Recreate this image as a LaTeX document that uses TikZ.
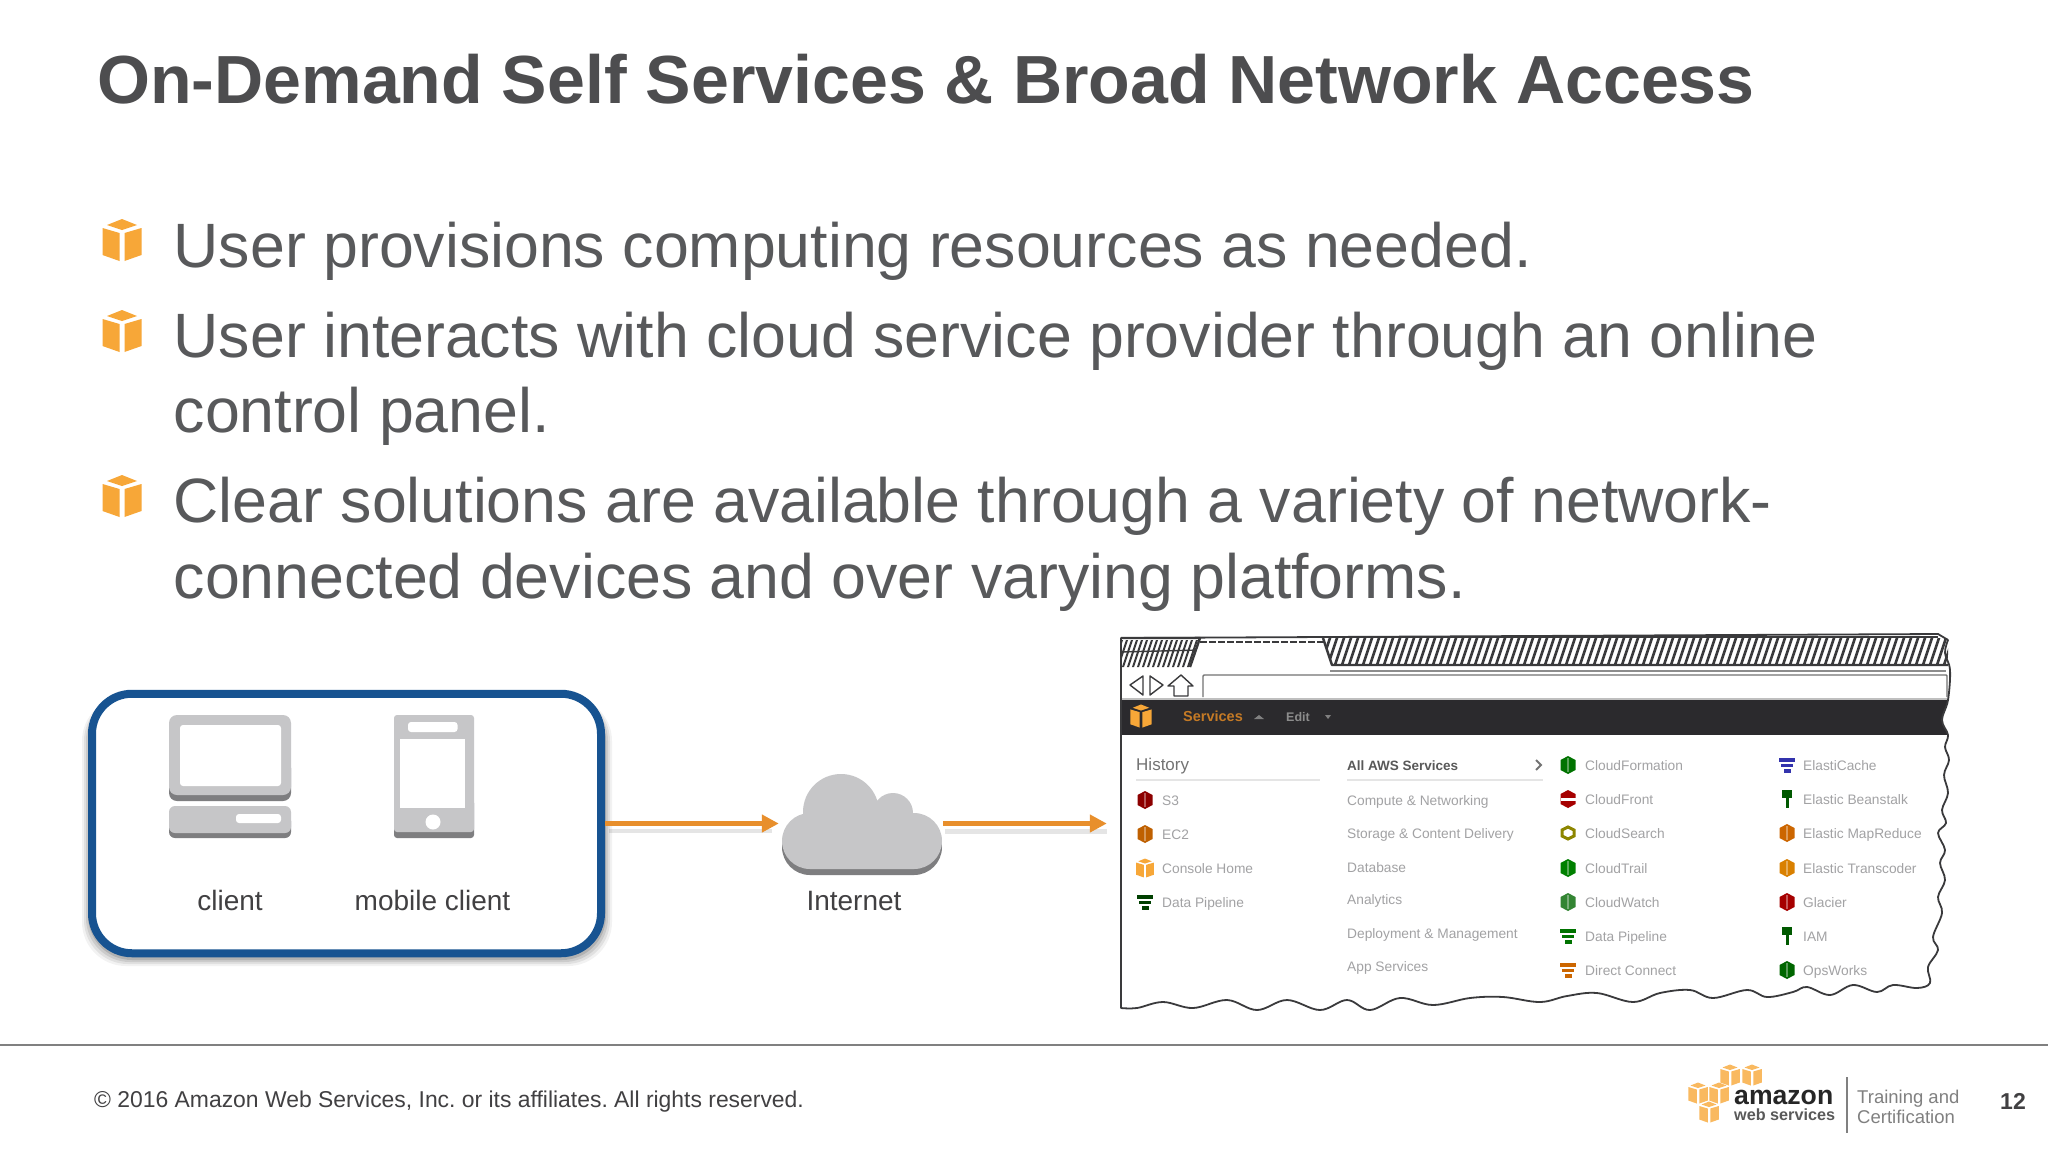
\documentclass[tikz,border=0pt]{standalone}
\usepackage{fontspec}
\setmainfont{Liberation Sans}
\usetikzlibrary{arrows.meta}
\definecolor{titlecol}{HTML}{4D4D4F}
\definecolor{bodycol}{HTML}{58595B}
\definecolor{labelcol}{HTML}{414042}
\definecolor{cubecol}{HTML}{F7A738}
\definecolor{boxblue}{HTML}{175391}
\definecolor{iconlight}{HTML}{C6C6C8}
\definecolor{icondark}{HTML}{7E7E80}
\definecolor{arrowcol}{HTML}{E88F2C}
\definecolor{inkcol}{HTML}{3A3A3C}
\definecolor{smalltext}{HTML}{A2A2A4}
\definecolor{barcol}{HTML}{2B2A2D}
\newcommand{\fs}[1]{\fontsize{#1}{#1}\selectfont}
\tikzset{
  x=1pt,y=-1pt,
  titletext/.style={anchor=base west,inner sep=0,text=titlecol,font=\fs{68.1}\bfseries},
  bullettext/.style={anchor=base west,inner sep=0,text=bodycol,font=\fs{62.65}},
  devlabel/.style={anchor=base,inner sep=0,text=labelcol,font=\fs{28}},
  foottext/.style={anchor=base west,inner sep=0,text=labelcol,font=\frenchspacing\fs{22.9}},
  smalltxt/.style={anchor=base west,inner sep=0,text=smalltext,font=\fs{13.75}},
  flowarrow/.style={line width=5.5pt,draw=arrowcol,-{Triangle[length=17pt,width=17pt,fill=arrowcol]}},
  ink/.style={draw=inkcol,line width=1.8pt,line join=round},
  awscube/.pic={
    \path[pic actions,draw=none] (-15,-15) -- (0,-21) -- (15,-15) -- (0,-10) -- cycle;
    \path[pic actions,draw=none] (-19.5,-12) -- (-2.5,-7) -- (-2.5,21) -- (-19.5,15) -- cycle;
    \path[pic actions,draw=none] (2.5,-7) -- (19.5,-12) -- (19.5,15) -- (2.5,21) -- cycle;
  },
  hexicon/.pic={
    \path[pic actions,draw=none] (0,-9) -- (7.5,-5) -- (7.5,5) -- (0,9) -- (-7.5,5) -- (-7.5,-5) -- cycle;
    \fill[white,opacity=.35] (-1,-7) rectangle (1,7);
  },
  bandicon/.pic={
    \path[pic actions,draw=none] (0,-9) -- (7.5,-5) -- (7.5,5) -- (0,9) -- (-7.5,5) -- (-7.5,-5) -- cycle;
    \fill[white] (-7.5,-1.5) rectangle (7.5,1.5);
  },
  ringicon/.pic={
    \path[pic actions,fill=none,line width=3pt] (0,-6) -- (6,-3) -- (6,3) -- (0,6) -- (-6,3) -- (-6,-3) -- cycle;
  },
  stackicon/.pic={
    \path[pic actions,draw=none] (-8,-7) rectangle (8,-3.5);
    \path[pic actions,draw=none] (-6,-1.5) rectangle (6,2);
    \path[pic actions,draw=none] (-3.5,4) rectangle (3.5,8);
  },
  keyicon/.pic={
    \path[pic actions,draw=none] (-5,-9) rectangle (5,-1);
    \path[pic actions,draw=none] (-1.5,-1) rectangle (1.5,9);
  }
}
\def\browseroutline{(1121,638) -- (1938,634) -- plot[smooth,tension=.6] coordinates {(1948,640) (1945,653) (1950,670) (1948,700) (1942,720) (1948,735) (1945,747) (1949,760) (1944,775) (1948,793) (1942,810) (1946,823) (1938,833) (1945,850) (1940,863) (1945,880) (1938,897) (1942,913) (1933,937) (1938,950) (1928,967) (1930,983) (1917,988) (1893,985) (1877,992) (1853,985) (1830,995) (1807,987) (1793,992) (1767,997) (1747,990) (1713,998) (1690,990) (1660,993) (1633,1002) (1597,993) (1567,996) (1540,1002) (1503,997) (1470,998) (1433,1005) (1400,998) (1370,1010) (1347,1000) (1320,1010) (1287,1000) (1257,1010) (1227,1000) (1193,1008) (1163,1002) (1137,1008) (1121,1008)} -- cycle}
\begin{document}
\begin{tikzpicture}
\useasboundingbox (0,0) rectangle (2048,1152);
\fill[white] (0,0) rectangle (2048,1152);

% title and bullets
\node[titletext] (title) at (97,103) {On-Demand Self Services \& Broad Network Access};
\pic[fill=cubecol] at (122,240) {awscube};
\pic[fill=cubecol] at (122,331) {awscube};
\pic[fill=cubecol] at (122,496) {awscube};
\node[bullettext] (b1) at (173.5,267) {User provisions computing resources as needed.};
\node[bullettext] (b2a) at (173.5,357) {User interacts with cloud service provider through an online};
\node[bullettext] (b2b) at (173.5,432.5) {control panel.};
\node[bullettext] (b3a) at (173.5,522.5) {Clear solutions are available through a variety of network-};
\node[bullettext] (b3b) at (173.5,598) {connected devices and over varying platforms.};

% client box shadow
\foreach \g/\o in {6/.05,4/.07,2/.09,0/.12}
  \fill[black,opacity=\o,rounded corners=44pt] (88-\g,697) rectangle (605+\g+1,960+\g);
\node[draw=boxblue,fill=white,line width=8pt,rounded corners=40pt,inner sep=0,
      minimum width=509pt,minimum height=259.5pt] (clientbox) at (346.5,823.5) {};

% computer icon
\fill[icondark,rounded corners=8pt] (169,760) rectangle (291,801);
\fill[iconlight,rounded corners=8pt] (169,715) rectangle (291,795);
\fill[white,rounded corners=3pt] (180,725) rectangle (281,786);
\fill[icondark,rounded corners=6pt] (169,815) rectangle (291,838);
\fill[iconlight,rounded corners=6pt] (169,806) rectangle (291,833);
\fill[white,rounded corners=3pt] (236,814) rectangle (281,823);
% phone icon
\fill[icondark,rounded corners=3pt] (394,800) rectangle (474,838);
\fill[iconlight,rounded corners=3pt] (394,715) rectangle (474,832);
\fill[white,rounded corners=3pt] (408,722) rectangle (457.5,732);
\fill[white] (400,739) rectangle (465,808);
\fill[white] (433,822) circle[radius=7.5pt];
\node[devlabel] (clientlabel) at (230,910) {client};
\node[devlabel] (mobilelabel) at (432.5,910) {mobile client};

% cloud
\node[inner sep=0,minimum width=160pt,minimum height=101pt] (cloud) at (862,823.5) {};
\begin{scope}[shift={(0,6)}]
  \fill[icondark] (810,841) circle[radius=28pt] (914,841) circle[radius=28pt] (810,835) rectangle (914,869);
\end{scope}
\fill[iconlight] (841,812) circle[radius=38pt] (893,813) circle[radius=20pt]
  (810,841) circle[radius=28pt] (914,841) circle[radius=28pt] (810,820) rectangle (914,869);
\node[devlabel] (inetlabel) at (854,910) {Internet};

% arrows
\fill[black,opacity=.1] (609,829) rectangle (772,833);
\fill[black,opacity=.1] (945,829) rectangle (1107,834);
\draw[flowarrow,shorten >=3pt] (clientbox.east) -- (cloud.west);
\node[inner sep=0,minimum width=827pt,minimum height=372pt] (browser) at (1534.5,823.5) {};
\draw[flowarrow,shorten <=1pt,shorten >=14pt] (cloud.east) -- (browser.west);

% browser window
\fill[white] \browseroutline;
\begin{scope}
  \clip \browseroutline;
  \fill[barcol] (1115,700) rectangle (1955,735);
  \fill[black!25] (1115,698) rectangle (1955,700);
\end{scope}
\begin{scope}
  \clip (1323,638) -- (1948,638) -- (1948,665) -- (1332,665) -- cycle;
  \foreach \x in {1330,1337,...,1965}
    \draw[inkcol,line width=2.6pt] (\x-10,668) -- (\x+1,635);
\end{scope}
\begin{scope}
  \clip (1122,640) -- (1200,640) -- (1190,667) -- (1122,667) -- cycle;
  \foreach \x in {1122,1127,...,1210}
    \draw[inkcol,line width=2pt] (\x-10,670) -- (\x+1,637);
  \draw[inkcol,line width=1.4pt] (1118,652) -- (1200,650);
\end{scope}
\draw[ink,line width=2.4pt] (1121,638) -- (1200,638) -- (1190,667);
\draw[inkcol,line width=2.4pt,dash pattern=on 7pt off 2pt] (1200,642) -- (1324,642);
\draw[ink,line width=2.4pt] (1323,637) -- (1938,637);
\draw[ink,line width=2.4pt] (1323,638) -- (1332,665) -- (1948,665);
\draw[black!45,line width=1.4pt] (1330,671) -- (1946,671);
% nav icons and address bar
\draw[ink,line width=1.4pt] (1143,676) -- (1130,685) -- (1143,695) -- cycle;
\draw[ink,line width=1.4pt] (1150,676) -- (1163,685) -- (1150,695) -- cycle;
\draw[ink,line width=1.4pt] (1168,686) -- (1181,675) -- (1193,686) -- (1188,686) -- (1188,696) -- (1174,696) -- (1174,686) -- cycle;
\draw[black!55,line width=1.4pt,rounded corners=1pt] (1203,697) -- (1203,675) -- (1947,675) -- (1947,697);
\draw \browseroutline [ink];

% console menu bar
\pic[fill=cubecol,scale=.55] at (1141,716) {awscube};
\node[anchor=base west,inner sep=0,text=arrowcol!85!black,font=\fs{14.5}\bfseries] (svc) at (1183,721) {Services};
\node[anchor=base west,inner sep=0,text=black!45,font=\fs{12.5}\bfseries] (edit) at (1286,721) {Edit};
\fill[black!50] (1254,719) -- (1259,715) -- (1264,719) -- cycle;
\fill[black!50] (1325,715) -- (1331,715) -- (1328,719) -- cycle;

% menu headings
\node[anchor=base west,inner sep=0,text=black!55,font=\fs{17}] (hist) at (1136,770) {History};
\node[anchor=base west,inner sep=0,text=black!65,font=\fs{13.5}\bfseries] (allaws) at (1347,770) {All AWS Services};
\draw[black!10,line width=1.2pt] (1136,780) -- (1320,780) (1347,780) -- (1543,780);
\draw[black!55,line width=2pt] (1536,760) -- (1541,765) -- (1536,770);

% history column
\pic[fill=red!55!black] at (1145,800) {hexicon};
\pic[fill=orange!75!black] at (1145,834) {hexicon};
\pic[fill=cubecol,scale=.45] at (1145,868) {awscube};
\pic[fill=green!25!black] at (1145,902) {stackicon};
\foreach \n/\y/\t in {a/800/S3,b/834/EC2,c/868/Console Home,d/902/Data Pipeline}
  \node[smalltxt] (hist-\n) at (1162,\y+5) {\t};

% categories column
\foreach \n/\y/\t in {a/800/Compute \& Networking,b/833/Storage \& Content Delivery,c/867/Database,d/899/Analytics,e/933/Deployment \& Management,f/966/App Services}
  \node[smalltxt] (cat-\n) at (1347,\y+5) {\t};

% service column 1
\pic[fill=green!45!black] at (1568,765) {hexicon};
\pic[fill=red!65!black] at (1568,799) {bandicon};
\pic[draw=olive] at (1568,833) {ringicon};
\pic[fill=green!50!black] at (1568,868) {hexicon};
\pic[fill=green!40!black!80] at (1568,902) {hexicon};
\pic[fill=green!45!black] at (1568,936) {stackicon};
\pic[fill=orange!80!black] at (1568,970) {stackicon};
\foreach \n/\y/\t in {a/765/CloudFormation,b/799/CloudFront,c/833/CloudSearch,d/868/CloudTrail,e/902/CloudWatch,f/936/Data Pipeline,g/970/Direct Connect}
  \node[smalltxt] (svc-\n) at (1585,\y+5) {\t};

% service column 2
\pic[fill=blue!60!black!80] at (1787,765) {stackicon};
\pic[fill=green!35!black] at (1787,799) {keyicon};
\pic[fill=orange!80!black] at (1787,833) {hexicon};
\pic[fill=orange!70!olive] at (1787,868) {hexicon};
\pic[fill=red!65!black] at (1787,902) {hexicon};
\pic[fill=green!35!black] at (1787,936) {keyicon};
\pic[fill=green!40!black] at (1787,970) {hexicon};
\foreach \n/\y/\t in {a/765/ElastiCache,b/799/Elastic Beanstalk,c/833/Elastic MapReduce,d/868/Elastic Transcoder,e/902/Glacier,f/936/IAM,g/970/OpsWorks}
  \node[smalltxt] (svd-\n) at (1803,\y+5) {\t};

% footer
\draw[black!50,line width=1.4pt] (0,1045) -- (2048,1045);
\node[foottext] (copy) at (94,1107) {© 2016 Amazon Web Services, Inc. or its affiliates. All rights reserved.};
\node[anchor=base,inner sep=0,text=labelcol,font=\fs{23}\bfseries] (page) at (2013,1109) {12};
\pic[fill=cubecol!80!white,scale=.5] at (1730,1075) {awscube};
\pic[fill=cubecol!80!white,scale=.5] at (1752,1075) {awscube};
\pic[fill=cubecol!80!white,scale=.5] at (1698,1093) {awscube};
\pic[fill=cubecol!80!white,scale=.5] at (1719,1093) {awscube};
\pic[fill=cubecol!80!white,scale=.5] at (1709,1112) {awscube};
\node[anchor=base west,inner sep=0,text=black!85,font=\fs{26.6}\bfseries] (amz) at (1734,1104) {amazon};
\node[anchor=base west,inner sep=0,text=black!65,font=\fs{16.2}\bfseries] (aws) at (1734,1120) {web services};
\draw[black!50,line width=1.2pt] (1847,1077) -- (1847,1133);
\node[anchor=base west,inner sep=0,text=black!50,font=\fs{18.5}] (tr) at (1857,1103) {Training and};
\node[anchor=base west,inner sep=0,text=black!50,font=\fs{18.5}] (ce) at (1857,1123) {Certification};
\end{tikzpicture}
\end{document}
